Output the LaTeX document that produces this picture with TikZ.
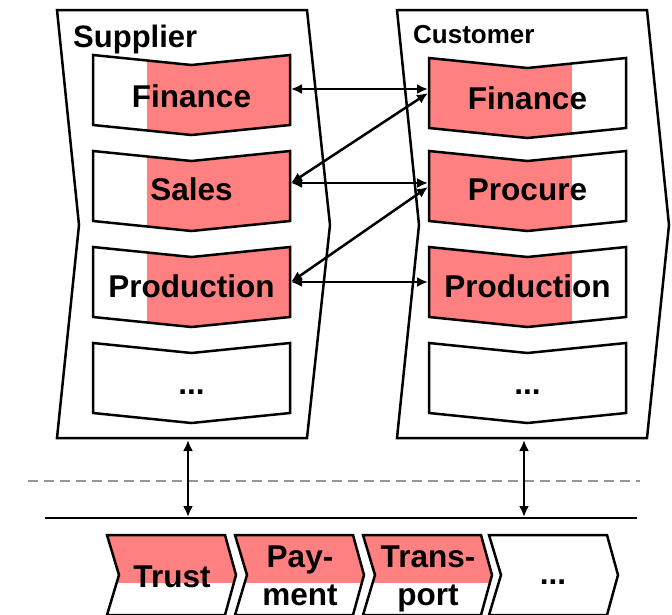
\documentclass[tikz,border=0pt]{standalone}
\usepackage{fontspec}
\setmainfont{Liberation Sans}
\usetikzlibrary{arrows.meta}
\definecolor{boxred}{RGB}{255,128,128}
\definecolor{dashgray}{RGB}{150,150,150}
\tikzset{
  outline/.style={draw=black,line width=2.5pt,line join=miter},
  conn/.style={line width=2.5pt,{Latex[length=11pt,width=10pt]}-{Latex[length=11pt,width=10pt]}},
  lbl/.style={font=\fontsize{31.5}{34}\bfseries\selectfont,anchor=base,inner sep=0pt},
  hdr/.style={anchor=base west,inner sep=0pt},
}
% process box: #1 left x, #2 top y, #3 red from x, #4 red to x, #5 red? (1/0)
\newcommand\procbox[5]{%
  \ifnum#5=1
  \begin{scope}
    \clip (#1,#2) -- ++(98.5,10) -- ++(98.5,-10) -- ++(0,70) -- ++(-98.5,10) -- ++(-98.5,-10) -- cycle;
    \fill[boxred] (#3,#2) rectangle (#4,#2+80);
  \end{scope}
  \fi
  \draw[outline] (#1,#2) -- ++(98.5,10) -- ++(98.5,-10) -- ++(0,70) -- ++(-98.5,10) -- ++(-98.5,-10) -- cycle;
}
% bottom chevron: #1 left x, #2 red? (1/0)
\newcommand\chev[2]{%
  \ifnum#2=1
  \begin{scope}
    \clip (#1,535) -- ++(118,0) -- ++(11,40) -- ++(-11,40) -- ++(-118,0) -- ++(12,-40) -- cycle;
    \fill[boxred] (#1,535) rectangle (#1+130,583);
  \end{scope}
  \fi
  \draw[outline] (#1,535) -- ++(118,0) -- ++(11,40) -- ++(-11,40) -- ++(-118,0) -- ++(12,-40) -- cycle;
}
\begin{document}
\begin{tikzpicture}[x=1pt,y=-1pt]
\useasboundingbox (0,0) rectangle (672,614);
\clip (0,0) rectangle (672,614);
% containers
\draw[outline,fill=white] (57,10) -- (307,10) -- (330,225) -- (307,438) -- (57,438) -- (79,225) -- cycle;
\draw[outline,fill=white] (397,10) -- (647,10) -- (669,225) -- (647,438) -- (397,438) -- (419,225) -- cycle;
\node[hdr,font=\fontsize{31}{34}\bfseries\selectfont] (sup) at (73,47) {Supplier};
\node[hdr,font=\fontsize{26}{28}\bfseries\selectfont] (cus) at (413,43) {Customer};
% supplier boxes
\procbox{93}{55}{147}{290}{1}
\procbox{93}{151}{147}{290}{1}
\procbox{93}{247}{147}{290}{1}
\procbox{93}{343}{147}{147}{0}
% customer boxes
\procbox{429}{58}{429}{572}{1}
\procbox{429}{151}{429}{572}{1}
\procbox{429}{247}{429}{572}{1}
\procbox{429}{343}{429}{429}{0}
% labels
\node[lbl] (sfin) at (191.5,107) {Finance};
\node[lbl] (ssal) at (191.5,200) {Sales};
\node[lbl] (spro) at (191.5,297) {Production};
\node[lbl] (sdot) at (191.5,394) {...};
\node[lbl] (cfin) at (527.5,109) {Finance};
\node[lbl] (cpro) at (527.5,200) {Procure};
\node[lbl] (cprd) at (527.5,297) {Production};
\node[lbl] (cdot) at (527.5,394) {...};
% connector ends
\coordinate (sfinR) at (291,89);
\coordinate (ssalR) at (291,183);
\coordinate (sproR) at (291,282);
\coordinate (cfinL) at (428,89);
\coordinate (cfinD) at (428,93);
\coordinate (cproL) at (428,183);
\coordinate (cproD) at (428,187);
\coordinate (cprdL) at (428,282);
\draw[conn] (sfinR) -- (cfinL);
\draw[conn] (ssalR) -- (cproL);
\draw[conn] (sproR) -- (cprdL);
\draw[conn] (ssalR) -- (cfinD);
\draw[conn] (sproR) -- (cproD);
% lines
\coordinate (dashL) at (28,481);
\coordinate (dashR) at (640,481);
\draw[dashgray,line width=2.5pt,dash pattern=on 10pt off 6pt] (dashL) -- (dashR);
\coordinate (baseL) at (45,518);
\coordinate (baseR) at (637,518);
\draw[line width=2.5pt] (baseL) -- (baseR);
\coordinate (supB) at (188,440);
\coordinate (supL) at (188,517);
\coordinate (cusB) at (524,440);
\coordinate (cusL) at (524,517);
\draw[conn] (supB) -- (supL);
\draw[conn] (cusB) -- (cusL);
% bottom chevrons
\chev{107}{1}
\chev{235}{1}
\chev{363}{1}
\chev{489}{0}
\node[lbl] (trust) at (172,587) {Trust};
\node[lbl] (pay) at (300,567) {Pay-};
\node[lbl] (ment) at (300,605) {ment};
\node[lbl] (trans) at (428,567) {Trans-};
\node[lbl] (port) at (428,605) {port};
\node[lbl] (bdot) at (553,584) {...};
\end{tikzpicture}
\end{document}
